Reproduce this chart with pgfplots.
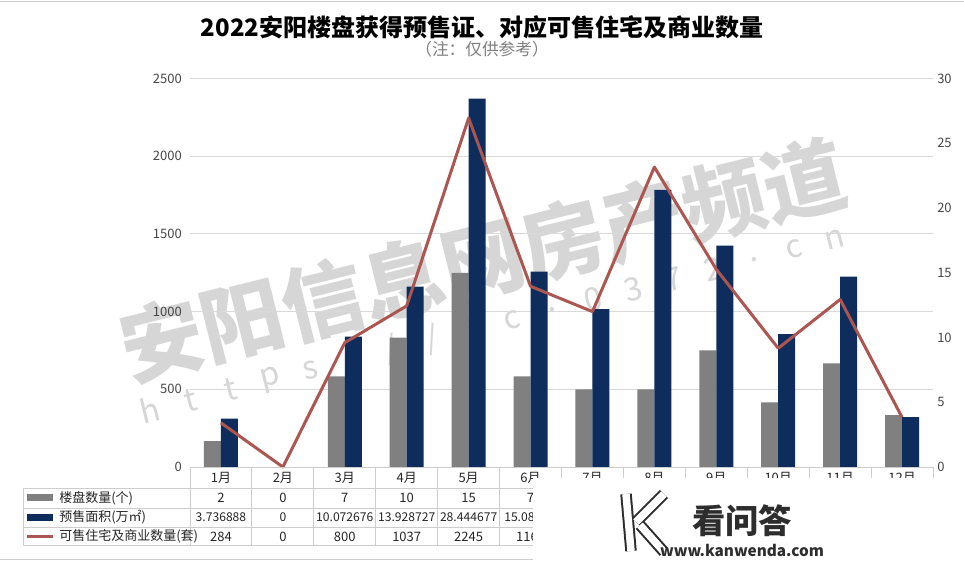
\documentclass[border=0pt]{standalone}
\usepackage{fontspec}
\setmainfont{Noto Sans CJK SC}
\usepackage{pgfplots}
\usepackage{pgfplotstable}
\pgfplotsset{compat=1.18}
\definecolor{barGray}{RGB}{128,128,128}
\definecolor{barNavy}{RGB}{14,45,92}
\definecolor{lineRed}{RGB}{172,86,82}
\definecolor{gridC}{RGB}{217,217,217}
\definecolor{tblC}{RGB}{205,205,205}
\definecolor{txtC}{RGB}{38,38,38}
\definecolor{tickC}{RGB}{70,70,70}
\definecolor{wmC}{RGB}{214,214,214}
\definecolor{logoC}{RGB}{45,45,45}

\pgfplotstableread{
x units area sets
0 2 3.736888 284
1 0 0 0
2 7 10.072676 800
3 10 13.928727 1037
4 15 28.444677 2245
5 7 15.08 1163
6 6 12.19 1000
7 6 21.4 1930
8 9 17.1 1272
9 5 10.27 764
10 8 14.7 1078
11 4 3.86 320
}\datatable

\pgfplotsset{base/.style={
  at={(142.5pt,-350.25pt)}, anchor=south west,
  width=557.25pt, height=291.375pt, scale only axis,
  xmin=-0.5, xmax=11.5, xtick=\empty,
  axis line style={draw=none}, major tick length=0pt,
  tick label style={font=\fontsize{9.75}{11}\selectfont, text=tickC},
  /pgf/number format/assume math mode=true,
  /pgf/number format/1000 sep={},
  scaled y ticks=false,
}}
\tikzset{logostroke/.style={line width=1.5pt, draw=logoC, double=white, double distance=5.6pt, line cap=butt}}

\begin{document}
\begin{tikzpicture}
\begin{scope}[x=0.75pt,y=-0.75pt]
\path[use as bounding box, fill=white] (0,0) rectangle (964,562);
\draw[tblC, line width=0.75pt] (0,1) -- (964,1);
\draw[tblC, line width=0.75pt] (0,559) -- (964,559);
% watermark
\node[rotate=14, text=wmC, font=\fontsize{62}{62}\selectfont\bfseries] at (483,260) {安阳信息网房产频道};
\foreach \c [count=\i from 0] in {h,t,t,p,s,:,/,/,f,c,.,0,3,7,2,.,c,n}
  \node[rotate=14, text=wmC, font=\fontsize{24}{24}\selectfont] at ({150+40.27*\i},{410-10.04*\i}) {\c};
% titles
\node[font=\fontsize{18}{20}\selectfont\bfseries, text=black] at (482,27) {2022安阳楼盘获得预售证、对应可售住宅及商业数量};
\node[font=\fontsize{12.5}{14}\selectfont, text=gray] at (482,49) {（注：仅供参考）};
\end{scope}

\begin{axis}[base, ymin=0, ymax=2500, ytick={0,500,...,2500},
  ymajorgrids, grid style={gridC, line width=0.75pt},
  yticklabel style={anchor=east, inner sep=0pt, xshift=-6pt}]
\addplot[draw=none] coordinates {(0,0)};
\end{axis}

\begin{axis}[base, ymin=0, ymax=30, ytick={0,5,...,30}, yticklabel pos=right,
  yticklabel style={anchor=west, inner sep=0pt, xshift=3pt},
  ybar=0pt, bar width=12.75pt]
\addplot[fill=barGray, draw=none] table[x=x,y=units]{\datatable};
\addplot[fill=barNavy, draw=none] table[x=x,y=area]{\datatable};
\end{axis}

\begin{axis}[base, hide axis, clip=false, ymin=0, ymax=2500]
\addplot[lineRed, line width=2.25pt, mark=none, line join=round] table[x=x,y=sets]{\datatable};
\end{axis}

\begin{scope}[x=0.75pt,y=-0.75pt]
% table grid
\draw[tblC, line width=0.75pt] (190,467) -- (933,467);
\foreach \yy in {488,508,527,545} \draw[tblC, line width=0.75pt] (23,\yy) -- (933,\yy);
\draw[tblC, line width=0.75pt] (23,488) -- (23,545);
\foreach \k in {0,...,12} \draw[tblC, line width=0.75pt] ({190+61.917*\k},467) -- ({190+61.917*\k},545);
% month labels
\foreach \m [count=\i from 0] in {1,...,12}
  \node[font=\fontsize{9.75}{11}\selectfont, text=txtC] at ({190+61.917*(\i+0.5)},477.5) {\m 月};
% legend keys
\fill[barGray] (27,494) rectangle (53,501);
\fill[barNavy] (27,513.5) rectangle (53,520.5);
\draw[lineRed, line width=2.25pt] (27,536.5) -- (53,536.5);
\node[anchor=west, inner sep=0pt, font=\fontsize{9.75}{11}\selectfont, text=txtC] at (59,498) {楼盘数量(个)};
\node[anchor=west, inner sep=0pt, font=\fontsize{9.75}{11}\selectfont, text=txtC] at (59,517.5) {预售面积(万㎡)};
\node[anchor=west, inner sep=0pt, font=\fontsize{9.75}{11}\selectfont, text=txtC] at (59,536.5) {可售住宅及商业数量(套)};
% values
\foreach \v [count=\i from 0] in {2,0,7,10,15,7}
  \node[font=\fontsize{9.75}{11}\selectfont, text=txtC] at ({190+61.917*(\i+0.5)},498) {\v};
\foreach \v [count=\i from 0] in {3.736888,0,10.072676,13.928727,28.444677}
  \node[inner sep=0pt, font=\fontsize{9.1}{11}\selectfont, text=txtC] at ({190+61.917*(\i+0.5)},517.5) {\v};
\node[anchor=west, inner sep=0pt, font=\fontsize{9.1}{11}\selectfont, text=txtC] at (504,517.5) {15.08};
\foreach \v [count=\i from 0] in {284,0,800,1037,2245,1163}
  \node[font=\fontsize{9.75}{11}\selectfont, text=txtC] at ({190+61.917*(\i+0.5)},536.5) {\v};
% overlay (site mark)
\fill[white] (533,478) rectangle (964,562);
\draw[logostroke] (626,494) -- (631,551);
\draw[logostroke] (664,494) -- (636,522);
\draw[logostroke] (640,525) -- (664,552);
\node[font=\fontsize{25}{26}\selectfont\bfseries, text=logoC] at (742,521) {看问答};
\node[font=\fontsize{11.5}{12}\selectfont\bfseries, text=logoC] at (742,550) {www.kanwenda.com};
\end{scope}
\end{tikzpicture}
\end{document}
